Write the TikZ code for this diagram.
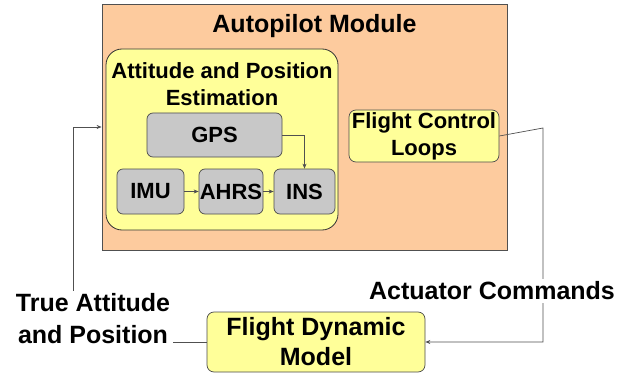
\documentclass[tikz,border=0pt]{standalone}
\usepackage{fontspec}
\setmainfont{Liberation Sans}
\usetikzlibrary{arrows.meta}
\definecolor{peach}{HTML}{FDCB9E}
\definecolor{paleyellow}{HTML}{FFFF99}
\definecolor{blockgray}{HTML}{C8C8C8}
\definecolor{edge}{HTML}{505050}
\tikzset{
  module/.style={draw=edge, fill=peach, line width=0.8pt, minimum width=405, minimum height=246, inner sep=0},
  group/.style={draw=black!80, fill=paleyellow, rounded corners=16, line width=0.8pt, minimum width=232, minimum height=181, inner sep=0},
  block/.style={draw=black!70, fill=blockgray, rounded corners=6, line width=0.7pt, inner sep=0, font=\fontsize{22}{26}\selectfont\bfseries},
  ybox/.style={draw=black!70, fill=paleyellow, rounded corners=7, line width=0.7pt, inner sep=0, align=center},
  caption/.style={font=\bfseries, align=center, inner sep=0},
  conn/.style={draw=edge, line width=0.7pt},
  arr/.style={conn, -{Stealth[length=5pt,width=4pt]}},
  tag/.style={fill=white, inner sep=3pt, align=center, font=\fontsize{25}{32}\selectfont\bfseries}
}
\begin{document}
\begin{tikzpicture}[x=1pt, y=-1pt]
\useasboundingbox (0,0) rectangle (629,377);
\fill[white] (0,0) rectangle (629,377);

% autopilot module and its contents
\node[module] (ap) at (304.5,127) {};
\node[caption, font=\fontsize{25}{30}\selectfont\bfseries] (aptitle) at (314.5,26) {Autopilot Module};

\node[group] (est) at (222,139.5) {};
\node[caption, font=\fontsize{22}{27}\selectfont\bfseries] (esttitle) at (222,84) {Attitude and Position\\Estimation};

\node[block, minimum width=135, minimum height=44] (gps) at (214.5,135) {GPS};
\node[block, minimum width=67, minimum height=45] (imu) at (150.5,191.5) {IMU};
\node[block, minimum width=64, minimum height=45] (ahrs) at (231,191.5) {AHRS};
\node[block, minimum width=61, minimum height=45] (ins) at (304.5,191.5) {INS};

\node[ybox, minimum width=150, minimum height=52, font=\fontsize{22}{27}\selectfont\bfseries] (fcl) at (424,136) {Flight Control\\Loops};

% plant model
\node[ybox, minimum width=218, minimum height=60, font=\fontsize{25}{30}\selectfont\bfseries] (fdm) at (316,342) {Flight Dynamic\\Model};

% internal connections
\draw[arr] (gps.east) -| (ins.north);
\draw[arr] (imu) -- (ahrs);
\draw[arr] (ahrs) -- (ins);

% outer loop
\coordinate (rc) at (543,128);
\coordinate (lc) at (73,342);
\draw[arr] (fcl.east) -- (rc) |- (fdm.east);
\draw[arr] (fdm.west) -- (lc) |- (ap.west);

% signal labels
\node[tag] (act) at (492,291) {Actuator Commands};
\node[tag] (truth) at (93,319) {True Attitude\\and Position};
\end{tikzpicture}
\end{document}
